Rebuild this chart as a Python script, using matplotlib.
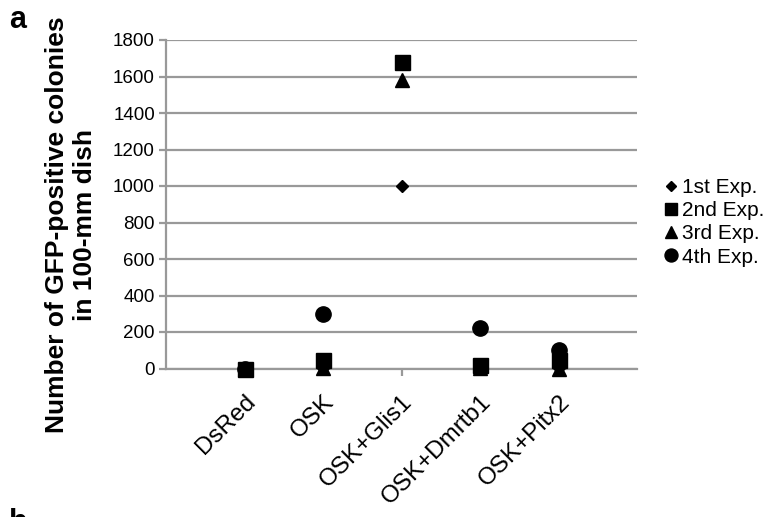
import matplotlib.pyplot as plt
import numpy as np

plt.rcParams['font.family'] = ['Liberation Sans', 'DejaVu Sans']

categories = ["DsRed", "OSK", "OSK+Glis1", "OSK+Dmrtb1", "OSK+Pitx2"]
exp1 = [0, 5, 1000, 5, 5]
exp2 = [0, 45, 1680, 20, 45]
exp3 = [0, 5, 1580, 5, 0]
exp4 = [0, 298, np.nan, 220, 100]
series_names = ["1st Exp.", "2nd Exp.", "3rd Exp.", "4th Exp."]
y_ticks = [0, 200, 400, 600, 800, 1000, 1200, 1400, 1600, 1800]

W, H = 771, 517
fig = plt.figure(figsize=(W / 100, H / 100), dpi=100)
ax = fig.add_axes([166 / W, 1 - 368.5 / H, (637 - 166) / W, (368.5 - 40) / H])

x = np.arange(1, len(categories) + 1)
styles = [("D", 6.5), ("s", 10.8), ("^", 10.5), ("o", 11)]
for vals, name, (m, s) in zip([exp1, exp2, exp3, exp4], series_names, styles):
    ax.plot(x, vals, linestyle="none", marker=m, markersize=s, color="black",
            label=name, clip_on=False, zorder=3)

grid_c = "#999999"
ax.set_xlim(0, 6)
ax.set_ylim(0, 1800)
ax.set_yticks(y_ticks)
ax.set_yticklabels([str(v) for v in y_ticks], fontsize=13.5)
ax.yaxis.grid(True, color=grid_c, linewidth=1.6)
ax.set_axisbelow(True)
ax.set_xticks(x)
ax.set_xticklabels(categories, rotation=45, ha="right", va="top",
                   rotation_mode="anchor", fontsize=17.5)
for spine in ["top", "right"]:
    ax.spines[spine].set_visible(False)
for spine in ["left", "bottom"]:
    ax.spines[spine].set_color(grid_c)
    ax.spines[spine].set_linewidth(1.6)
ax.tick_params(axis="y", colors=grid_c, labelcolor="black", length=5, width=1.6, pad=3)
ax.tick_params(axis="x", colors=grid_c, labelcolor="black", length=5, width=1.6, pad=11)

fig.text(71 / W, 1 - 225 / H, "Number of GFP-positive colonies\nin 100-mm dish",
         rotation=90, ha="center", va="center", multialignment="center",
         fontsize=19, fontweight="bold", linespacing=1.2)

leg = ax.legend(loc="center left", bbox_to_anchor=(1.06, 0.445), frameon=False,
                fontsize=15, handlelength=0.55, handletextpad=0.25,
                labelspacing=0.2, borderaxespad=0, borderpad=0)
for h in leg.legend_handles:
    h.set_markersize(h.get_markersize() * 0.85)

fig.text(9 / W, 1 - 28 / H, "a", fontsize=22, fontweight="bold")
fig.text(9 / W, 1 - 531 / H, "b", fontsize=22, fontweight="bold")

fig.savefig("out.png", dpi=100)
